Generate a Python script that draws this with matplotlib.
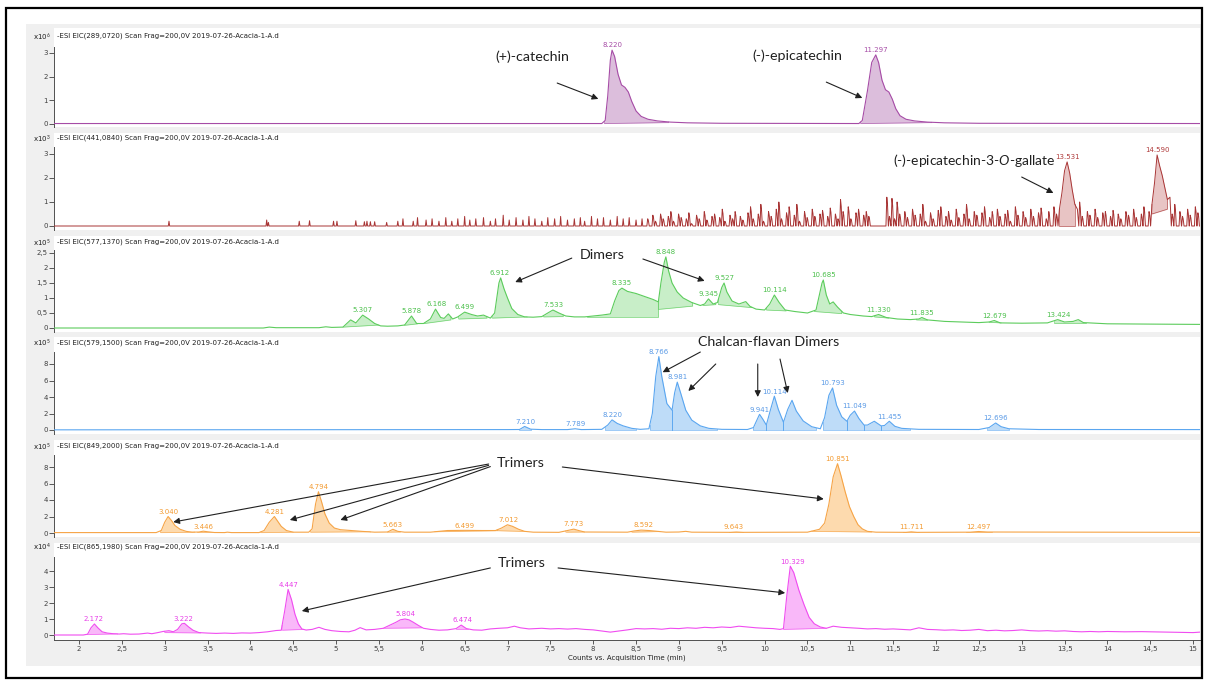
import numpy as np
import matplotlib
matplotlib.use("Agg")
import matplotlib.pyplot as plt
from matplotlib.patches import Rectangle
from matplotlib import font_manager as fm

# ---------------------------------------------------------------- data
ion_masses = ["289,0720", "441,0840", "577,1370", "579,1500", "849,2000", "865,1980"]
exponents = [6, 3, 5, 5, 5, 4]
sample_name = "2019-07-26-Acacia-1-A.d"

# panel 1 : m/z 289 (catechin / epicatechin), x10^6
p1_t = [1.71, 3.0, 5.0, 7.0, 8.10, 8.14, 8.17, 8.20, 8.22, 8.25, 8.29, 8.33, 8.37, 8.41, 8.45,
        8.50, 8.56, 8.64, 8.75, 8.90, 9.10, 9.5, 11.10, 11.14, 11.20, 11.25, 11.297, 11.33,
        11.37, 11.41, 11.45, 11.49, 11.53, 11.58, 11.65, 11.75, 11.90, 12.10, 12.5, 15.08]
p1_y = [0.02, 0.02, 0.02, 0.02, 0.02, 0.15, 1.2, 2.7, 3.12, 2.85, 2.1, 1.65, 1.55, 1.35, 0.95,
        0.55, 0.32, 0.2, 0.13, 0.08, 0.05, 0.03, 0.02, 0.15, 1.4, 2.6, 2.92, 2.6,
        1.85, 1.45, 1.35, 1.05, 0.65, 0.35, 0.2, 0.13, 0.08, 0.05, 0.03, 0.02]
p1_fill = [(8.13, 8.88, 0.02, 0.06), (11.12, 11.95, 0.02, 0.06)]
p1_labels = ["8.220", "11.297"]

# panel 2 : m/z 441 (epicatechin-3-O-gallate), x10^3
p2_spike_t = [3.05, 4.19, 4.21, 4.57, 4.69, 4.97, 5.01, 5.23, 5.33, 5.36, 5.40, 5.45, 5.59,
              5.72, 5.78, 5.90, 5.95, 6.05, 6.12, 6.20, 6.28, 6.35, 6.42, 6.50, 6.56, 6.63,
              6.72, 6.80, 6.86, 6.95, 7.02, 7.10, 7.18, 7.25, 7.32, 7.40, 7.47, 7.55, 7.62,
              7.70, 7.78, 7.85, 7.90, 7.98, 8.05, 8.12, 8.20, 8.28, 8.35, 8.42, 8.50, 8.57]
p2_spike_h = [0.2, 0.25, 0.15, 0.2, 0.22, 0.2, 0.2, 0.22, 0.18, 0.2, 0.18, 0.18, 0.15,
              0.2, 0.3, 0.2, 0.35, 0.25, 0.3, 0.2, 0.35, 0.2, 0.3, 0.4, 0.25, 0.3,
              0.35, 0.2, 0.3, 0.45, 0.25, 0.35, 0.25, 0.4, 0.3, 0.2, 0.35, 0.3, 0.4,
              0.25, 0.3, 0.35, 0.2, 0.4, 0.3, 0.35, 0.25, 0.4, 0.3, 0.35, 0.25, 0.3]
p2_dense_start = 8.64
p2_dense_step = 0.03
p2_dense_h = [0.3, 0, 0.45, 0.2, 0, 0.5, 0.3, 0, 0.4, 0.6,
              0.2, 0, 0.5, 0.35, 0, 0.3, 0.55, 0.1, 0, 0.45,
              0.3, 0, 0.6, 0.25, 0, 0.4, 0.5, 0, 0.35, 0.7,
              0.2, 0, 0.45, 0.3, 0.6, 0, 0.4, 0.25, 0, 0.55,
              0.8, 0.3, 0, 0.5, 0.9, 0.2, 0, 0.6, 0.4, 0,
              0.7, 1.0, 0.3, 0, 0.55, 0.8, 0, 0.45, 0.9, 0.2,
              0, 0.6, 0.35, 0, 0.7, 0.4, 0, 0.5, 0.65, 0,
              0.4, 0.75, 0, 0.5, 0.3, 1.1, 0.6, 0, 0.8, 0.3,
              0, 0.55, 0.7, 0, 0.45, 0.6, 0.4, 0, 0, 0,
              0, 0, 0, 1.2, 0.4, 1.15, 0.3, 1.0, 0.5, 0,
              0.6, 0.35, 0, 0.7, 0.45, 0, 0.5, 0.9, 0.2, 0,
              0.55, 0.3, 0, 0.65, 0.8, 0, 0.4, 0.6, 0.25, 0,
              0.7, 0.35, 0, 0.5, 0.9, 0.3, 0, 0.6, 0.45, 0,
              0.55, 0.8, 0, 0.35, 0.6, 0, 0.7, 0.4, 0, 0.5,
              0.65, 0.2, 0, 0.8, 0.45, 0, 0.6, 0.35, 0, 0.7,
              0.4, 0, 0.55, 0.75, 0, 0.3, 0.6, 0, 0.8, 0.5,
              0.7, 1.4, 2.3, 2.67, 2.2, 1.5, 0.9, 0.7, 1.0, 0.4,
              0, 0.6, 0.45, 0, 0.7, 0.35, 0, 0.55, 0.6, 0,
              0.4, 0.65, 0, 0.5, 0.3, 0, 0.6, 0.45, 0, 0.7,
              0.35, 0, 0.5, 0.8, 0, 0.6, 0.9, 1.8, 2.96, 2.5,
              2.1, 1.6, 1.1, 1.2, 0.5, 0.9, 0, 0.6, 0.4, 0,
              0.7, 0.45, 0, 0.8, 0.55]
# retention windows of the two real peaks (drawn as a continuous profile, not as spikes)
p2_peak_windows = [(13.44, 13.65), (14.52, 14.73)]
p2_fill = [(13.44, 13.62, 0.0, 0.0), (14.52, 14.70, 0.5, 0.7)]
p2_labels = ["13.531", "14.590"]

# panel 3 : m/z 577 (dimers), x10^5
p3_t = [1.71, 4.15, 4.22, 4.3, 4.8, 4.88, 4.95, 5.08, 5.17, 5.23, 5.31, 5.38, 5.45, 5.52, 5.6,
        5.72, 5.8, 5.88, 5.94, 6.02, 6.1, 6.16, 6.22, 6.26, 6.31, 6.36, 6.42, 6.5, 6.58, 6.65,
        6.72, 6.8, 6.85, 6.9, 6.92, 6.96, 7.0, 7.05, 7.12, 7.2, 7.3, 7.4, 7.47, 7.53, 7.6,
        7.68, 7.78, 7.9, 8.0, 8.1, 8.2, 8.25, 8.3, 8.335, 8.4, 8.5, 8.6, 8.7, 8.76, 8.79,
        8.83, 8.848, 8.88, 8.92, 8.98, 9.05, 9.15, 9.25, 9.3, 9.345, 9.4, 9.45, 9.5, 9.527,
        9.56, 9.62, 9.7, 9.78, 9.83, 9.9, 10.0, 10.06, 10.114, 10.17, 10.24, 10.35, 10.5,
        10.6, 10.67, 10.685, 10.72, 10.76, 10.8, 10.85, 10.92, 11.0, 11.15, 11.25, 11.33,
        11.42, 11.55, 11.7, 11.8, 11.835, 11.9, 12.1, 12.3, 12.5, 12.62, 12.68, 12.75, 13.0,
        13.3, 13.42, 13.5, 13.6, 13.66, 13.72, 14.0, 14.5, 15.08]
p3_y = [0.0, 0.0, 0.03, 0.01, 0.01, 0.04, 0.02, 0.03, 0.27, 0.17, 0.43, 0.3, 0.15, 0.07, 0.06,
        0.07, 0.1, 0.4, 0.15, 0.15, 0.3, 0.63, 0.35, 0.32, 0.47, 0.3, 0.37, 0.53, 0.45, 0.4,
        0.43, 0.33, 0.5, 1.5, 1.67, 1.3, 1.0, 0.65, 0.45, 0.37, 0.36, 0.38, 0.5, 0.6, 0.5,
        0.4, 0.37, 0.37, 0.4, 0.43, 0.47, 0.9, 1.25, 1.33, 1.22, 1.15, 1.05, 0.95, 0.87, 1.5,
        2.2, 2.37, 1.9, 1.5, 1.2, 1.0, 0.85, 0.75, 0.8, 0.97, 0.8, 0.85, 1.35, 1.5,
        1.2, 0.9, 0.8, 0.88, 0.72, 0.63, 0.6, 0.8, 1.1, 0.85, 0.6, 0.55, 0.5,
        0.6, 1.5, 1.6, 1.1, 0.8, 0.87, 0.7, 0.5, 0.45, 0.4, 0.38, 0.45,
        0.35, 0.3, 0.28, 0.3, 0.35, 0.27, 0.22, 0.2, 0.18, 0.2, 0.25, 0.17, 0.16,
        0.17, 0.28, 0.2, 0.22, 0.28, 0.18, 0.14, 0.13, 0.12]
p3_fill = [(5.08, 5.5, 0.03, 0.1), (5.8, 5.95, 0.09, 0.14), (6.03, 6.34, 0.15, 0.27),
           (6.43, 6.76, 0.3, 0.33), (6.82, 7.23, 0.33, 0.37), (7.42, 7.65, 0.37, 0.38),
           (7.93, 8.76, 0.37, 0.37), (8.76, 9.16, 0.62, 0.73), (9.28, 9.43, 0.75, 0.78),
           (9.46, 9.85, 0.78, 0.68), (10.02, 10.25, 0.6, 0.57), (10.58, 10.9, 0.55, 0.48),
           (11.28, 11.45, 0.37, 0.33), (11.77, 11.9, 0.27, 0.26), (12.62, 12.76, 0.19, 0.17),
           (13.38, 13.75, 0.16, 0.16)]
p3_labels = ["5.307", "5.878", "6.168", "6.499", "6.912", "7.533", "8.335", "8.848", "9.345",
             "9.527", "10.114", "10.685", "11.330", "11.835", "12.679", "13.424"]

# panel 4 : m/z 579 (chalcan-flavan dimers), x10^5
p4_t = [1.71, 7.0, 7.14, 7.2, 7.27, 7.4, 7.7, 7.79, 7.86, 8.1, 8.17, 8.22, 8.28, 8.35, 8.45,
        8.55, 8.65, 8.69, 8.73, 8.766, 8.8, 8.86, 8.92, 8.95, 8.981, 9.02, 9.08, 9.15, 9.25,
        9.35, 9.5, 9.8, 9.87, 9.941, 9.98, 10.02, 10.07, 10.114, 10.16, 10.22, 10.27, 10.32,
        10.37, 10.45, 10.55, 10.65, 10.7, 10.75, 10.793, 10.84, 10.9, 10.96, 11.0, 11.049,
        11.1, 11.16, 11.2, 11.28, 11.36, 11.4, 11.455, 11.52, 11.6, 11.68, 11.8, 12.5, 12.62,
        12.696, 12.76, 12.85, 13.2, 15.08]
p4_y = [0.02, 0.05, 0.06, 0.43, 0.1, 0.05, 0.05, 0.15, 0.05, 0.08, 0.6, 1.23, 0.8, 0.5, 0.2,
        0.08, 0.15, 2.0, 6.5, 8.9, 6.5, 3.2, 2.4, 4.5, 5.8, 4.5, 2.4, 1.2, 0.5,
        0.2, 0.08, 0.06, 0.3, 1.9, 1.3, 0.6, 2.5, 4.1, 2.5, 0.94, 2.5, 3.6,
        2.3, 1.1, 0.4, 0.15, 1.5, 4.2, 5.1, 3.0, 1.6, 1.06, 1.8, 2.3,
        1.4, 0.6, 0.6, 1.06, 0.5, 0.55, 1.06, 0.45, 0.2, 0.15, 0.08, 0.06, 0.3,
        0.85, 0.4, 0.15, 0.06, 0.05]
p4_fill = [(7.14, 7.28, 0.05, 0.05), (8.14, 8.5, 0.05, 0.05), (8.66, 8.92, 0.05, 0.05),
           (8.92, 9.45, 0.05, 0.05), (9.86, 10.02, 0.05, 0.05), (10.02, 10.22, 0.05, 0.05),
           (10.22, 10.6, 0.05, 0.05), (10.68, 10.96, 0.05, 0.05), (10.96, 11.16, 0.05, 0.05),
           (11.16, 11.36, 0.05, 0.05), (11.36, 11.7, 0.05, 0.05), (12.6, 12.85, 0.05, 0.05)]
p4_labels = ["7.210", "7.789", "8.220", "8.766", "8.981", "9.941", "10.114", "10.793",
             "11.049", "11.455", "12.696"]

# panel 5 : m/z 849 (trimers), x10^5
p5_t = [1.71, 2.9, 2.96, 3.0, 3.04, 3.08, 3.12, 3.18, 3.25, 3.32, 3.4, 3.45, 3.5, 3.58, 3.7,
        3.73, 3.78, 4.1, 4.16, 4.22, 4.28, 4.32, 4.36, 4.42, 4.5, 4.68, 4.72, 4.76, 4.794,
        4.83, 4.87, 4.92, 4.98, 5.05, 5.15, 5.3, 5.45, 5.6, 5.663, 5.72, 5.8, 6.1, 6.2, 6.3,
        6.5, 6.7, 6.86, 6.93, 7.0, 7.06, 7.13, 7.2, 7.3, 7.6, 7.7, 7.773, 7.83, 7.9, 8.4,
        8.48, 8.56, 8.65, 8.75, 8.85, 9.0, 9.08, 9.15, 9.6, 9.67, 9.75, 10.5, 10.58, 10.64,
        10.7, 10.75, 10.8, 10.851, 10.89, 10.94, 10.99, 11.04, 11.09, 11.14, 11.2, 11.3,
        11.65, 11.711, 11.78, 12.4, 12.497, 12.6, 15.08]
p5_y = [0.05, 0.05, 0.3, 1.3, 2.0, 1.5, 0.9, 0.45, 0.2, 0.1, 0.12, 0.22, 0.15, 0.06, 0.05,
        0.1, 0.05, 0.05, 0.3, 1.3, 2.0, 1.4, 0.8, 0.3, 0.1, 0.1, 0.5, 3.5, 5.0,
        3.8, 2.3, 1.2, 0.6, 0.4, 0.32, 0.2, 0.1, 0.12, 0.45, 0.2, 0.1, 0.1, 0.2, 0.3,
        0.32, 0.3, 0.3, 0.6, 1.0, 0.8, 0.45, 0.2, 0.1, 0.08, 0.3, 0.47, 0.3, 0.12, 0.1,
        0.25, 0.35, 0.3, 0.2, 0.1, 0.12, 0.2, 0.1, 0.08, 0.12, 0.08, 0.1, 0.3, 0.45,
        1.2, 3.5, 6.8, 8.4, 7.0, 5.0, 3.2, 2.0, 1.0, 0.5, 0.2, 0.1,
        0.08, 0.14, 0.08, 0.1, 0.18, 0.12, 0.08]
p5_fill = [(2.95, 3.35, 0.05, 0.1), (3.38, 3.55, 0.1, 0.1), (4.12, 4.5, 0.05, 0.1),
           (4.7, 5.4, 0.1, 0.15), (5.6, 5.75, 0.1, 0.12), (6.15, 6.88, 0.15, 0.28),
           (6.88, 7.22, 0.28, 0.18), (7.68, 7.9, 0.1, 0.12), (8.45, 8.78, 0.1, 0.18),
           (9.58, 9.75, 0.08, 0.08), (10.55, 11.25, 0.2, 0.12), (11.62, 11.8, 0.08, 0.08),
           (12.35, 12.65, 0.1, 0.1)]
p5_labels = ["3.040", "3.446", "4.281", "4.794", "5.663", "6.499", "7.012", "7.773", "8.592",
             "9.643", "10.851", "11.711", "12.497"]

# panel 6 : m/z 865 (trimers), x10^4
p6_t = [1.71, 2.05, 2.1, 2.14, 2.18, 2.22, 2.27, 2.33, 2.4, 2.47, 2.52, 2.6, 2.7, 2.8, 2.85,
        2.92, 2.98, 3.05, 3.1, 3.15, 3.2, 3.23, 3.28, 3.33, 3.4, 3.5, 3.6, 3.7, 3.8, 3.9, 4.0,
        4.1, 4.2, 4.3, 4.36, 4.4, 4.44, 4.48, 4.52, 4.56, 4.6, 4.65, 4.72, 4.8, 4.87, 4.95,
        5.05, 5.15, 5.22, 5.28, 5.35, 5.45, 5.55, 5.62, 5.7, 5.75, 5.804, 5.85, 5.9, 5.96,
        6.02, 6.1, 6.2, 6.3, 6.4, 6.46, 6.52, 6.6, 6.7, 6.8, 6.9, 7.0, 7.08, 7.15, 7.25, 7.4,
        7.5, 7.6, 7.7, 7.8, 7.9, 8.0, 8.1, 8.2, 8.3, 8.4, 8.5, 8.6, 8.7, 8.8, 8.9, 9.0, 9.1,
        9.2, 9.3, 9.4, 9.5, 9.6, 9.7, 9.8, 9.9, 10.0, 10.1, 10.18, 10.22, 10.26, 10.3, 10.34,
        10.4, 10.46, 10.52, 10.58, 10.65, 10.72, 10.8, 10.9, 11.0, 11.1, 11.2, 11.3, 11.4,
        11.5, 11.6, 11.7, 11.8, 11.9, 12.0, 12.1, 12.2, 12.3, 12.4, 12.5, 12.6, 12.7, 12.8,
        12.9, 13.0, 13.1, 13.2, 13.3, 13.4, 13.5, 13.6, 13.7, 13.8, 13.9, 14.0, 14.2, 14.4,
        14.6, 14.8, 15.0, 15.08]
p6_y = [0.0, 0.0, 0.05, 0.45, 0.69, 0.45, 0.2, 0.12, 0.08, 0.06, 0.08, 0.05, 0.06, 0.12, 0.08,
        0.15, 0.22, 0.27, 0.2, 0.35, 0.7, 0.73, 0.5, 0.3, 0.15, 0.12, 0.1, 0.12, 0.1, 0.13, 0.12,
        0.15, 0.2, 0.28, 0.3, 1.5, 2.85, 2.2, 1.3, 0.7, 0.38, 0.31, 0.35, 0.48, 0.35, 0.27,
        0.22, 0.2, 0.3, 0.46, 0.32, 0.35, 0.42, 0.6, 0.8, 0.95, 1.0, 0.95, 0.8, 0.6,
        0.42, 0.35, 0.3, 0.32, 0.4, 0.62, 0.4, 0.32, 0.3, 0.38, 0.42, 0.45, 0.55, 0.45, 0.38, 0.42,
        0.38, 0.4, 0.37, 0.4, 0.35, 0.32, 0.25, 0.18, 0.25, 0.32, 0.4, 0.38, 0.4, 0.36, 0.42, 0.4, 0.45,
        0.42, 0.48, 0.45, 0.5, 0.47, 0.55, 0.5, 0.45, 0.42, 0.4, 0.35, 0.4, 2.5, 4.3, 3.9,
        2.8, 1.9, 1.1, 0.7, 0.5, 0.42, 0.55, 0.48, 0.45, 0.42, 0.38, 0.4, 0.36,
        0.38, 0.35, 0.32, 0.45, 0.35, 0.33, 0.3, 0.32, 0.28, 0.3, 0.35, 0.27, 0.3, 0.26,
        0.28, 0.32, 0.27, 0.25, 0.27, 0.24, 0.26, 0.22, 0.2, 0.22, 0.2, 0.22, 0.2, 0.21,
        0.19, 0.17, 0.15, 0.18]
p6_fill = [(2.1, 2.45, 0.03, 0.07), (3.0, 3.42, 0.15, 0.13), (4.37, 4.62, 0.3, 0.35),
           (5.55, 6.0, 0.42, 0.45), (6.4, 6.54, 0.38, 0.38), (10.22, 10.72, 0.35, 0.42)]
p6_labels = ["2.172", "3.222", "4.447", "5.804", "6.474", "10.329"]

x_ticks = [2, 2.5, 3, 3.5, 4, 4.5, 5, 5.5, 6, 6.5, 7, 7.5, 8, 8.5, 9, 9.5, 10, 10.5,
           11, 11.5, 12, 12.5, 13, 13.5, 14, 14.5, 15]
y_ticks = [[0, 1, 2, 3], [0, 1, 2, 3], [0, 0.5, 1, 1.5, 2, 2.5], [0, 2, 4, 6, 8],
           [0, 2, 4, 6, 8], [0, 1, 2, 3, 4]]
x_label = "Counts vs. Acquisition Time (min)"

# build panel 2 trace: isolated spikes, then noise "grass" and the two real peaks
p2_t = [1.71]
p2_y = [0.0]
half_w = 0.008
for st, sh in zip(p2_spike_t, p2_spike_h):
    p2_t += [st - half_w, st, st + half_w]
    p2_y += [0.0, sh, 0.0]
dense_t = p2_dense_start + p2_dense_step * np.arange(len(p2_dense_h))
grass_w = 0.014
for dt, dh in zip(dense_t, p2_dense_h):
    in_peak = any(a <= dt <= b for a, b in p2_peak_windows)
    if in_peak or dh == 0:
        p2_t.append(dt)
        p2_y.append(dh)
    else:
        p2_t += [dt - grass_w, dt - 0.004, dt + 0.004, dt + grass_w]
        p2_y += [0.0, dh, dh * 0.75, 0.0]

traces_t = [p1_t, p2_t, p3_t, p4_t, p5_t, p6_t]
traces_y = [p1_y, p2_y, p3_y, p4_y, p5_y, p6_y]
fills = [p1_fill, p2_fill, p3_fill, p4_fill, p5_fill, p6_fill]
labels = [p1_labels, p2_labels, p3_labels, p4_labels, p5_labels, p6_labels]
p4_drops = [8.92, 10.02, 10.22, 10.96, 11.16, 11.36]

# ---------------------------------------------------------------- style / layout
names = {f.name for f in fm.fontManager.ttflist}
small_family = ['Liberation Sans Narrow', 'DejaVu Sans'] if 'Liberation Sans Narrow' in names else ['DejaVu Sans']
ann_family = ['Lato', 'DejaVu Sans'] if 'Lato' in names else ['DejaVu Sans']
plt.rcParams['font.family'] = small_family
plt.rcParams['mathtext.fontset'] = 'custom'
plt.rcParams['mathtext.rm'] = ann_family[0]
plt.rcParams['mathtext.it'] = ann_family[0] + ':italic'
small = 5.6 if small_family[0] != 'DejaVu Sans' else 5.0

line_colors = ["#a64ca6", "#a83434", "#5ccc5c", "#5aa6f0", "#f6a446", "#f04cf0"]
fill_colors = ["#dcbedc", "#e8c4c4", "#c8eec8", "#bedcf8", "#fddaae", "#f9b8f9"]
label_colors = ["#a64ca6", "#b03c3c", "#4cc04c", "#5a9ae6", "#f39a30", "#e83ee8"]

W, H = 1206, 681
panel_top = [28, 133, 236, 337, 440, 543]
panel_bot = [127, 230, 332, 434, 537, 640]
zero_px = [124, 226, 328, 430, 533, 635]
ppu = [23.67, 24.0, 30.0, 8.25, 8.25, 16.0]
spine_top_px = [47, 147, 250, 352, 455, 557]
title_px = [36, 138, 242, 343, 446, 547]
x_left_px, x_right_px = 54, 1200
px_per_min = 85.7
t_at_79 = 2.0
xlim = (t_at_79 + (x_left_px - 79) / px_per_min, t_at_79 + (x_right_px - 79) / px_per_min)

fig = plt.figure(figsize=(W / 100, H / 100), dpi=100)
fig.patch.set_facecolor('white')
fig.add_artist(Rectangle((26 / W, 1 - 666 / H), (1202 - 26) / W, (666 - 24) / H,
                         transform=fig.transFigure, facecolor='#f0f0f0', edgecolor='none', zorder=-5))
fig.add_artist(Rectangle((6 / W, 1 - 678 / H), (1202 - 6) / W, (678 - 8) / H,
                         transform=fig.transFigure, facecolor='none', edgecolor='black', lw=1.6, zorder=20))


def fmt(v):
    return f"{v:g}".replace('.', ',')


axes = []
for i in range(6):
    top, bot = panel_top[i], panel_bot[i]
    ax = fig.add_axes([x_left_px / W, 1 - bot / H, (x_right_px - x_left_px) / W, (bot - top) / H])
    ax.set_facecolor('white')
    ax.set_xlim(*xlim)
    ax.set_ylim(-(bot - zero_px[i]) / ppu[i], (zero_px[i] - top) / ppu[i])
    for s in ['top', 'right']:
        ax.spines[s].set_visible(False)
    ax.spines['left'].set_bounds(ax.get_ylim()[0], (zero_px[i] - spine_top_px[i]) / ppu[i])
    ax.spines['left'].set_color('#505050')
    ax.spines['left'].set_linewidth(0.7)
    ax.set_yticks(y_ticks[i])
    ax.set_yticklabels([fmt(v) for v in y_ticks[i]])
    ax.tick_params(axis='y', direction='out', length=3.5, width=0.6, colors='#404040',
                   labelsize=small, pad=1)
    if i < 5:
        ax.spines['bottom'].set_visible(False)
        ax.set_xticks([])
    else:
        ax.spines['bottom'].set_color('#505050')
        ax.spines['bottom'].set_linewidth(0.7)
        ax.set_xticks(x_ticks)
        ax.set_xticklabels([fmt(v) for v in x_ticks])
        ax.tick_params(axis='x', direction='out', length=3, width=0.6, colors='#404040',
                       labelsize=small, pad=1.5)

    t = np.asarray(traces_t[i], dtype=float)
    y = np.asarray(traces_y[i], dtype=float)
    # integrated peak areas
    for (t0, t1, b0, b1) in fills[i]:
        m = (t > t0) & (t < t1)
        tt = np.concatenate([[t0], t[m], [t1]])
        yy = np.interp(tt, t, y)
        bb = np.interp(tt, [t0, t1], [b0, b1])
        ax.fill_between(tt, bb, yy, color=fill_colors[i], lw=0, zorder=1)
        ax.plot([t0, t0, t1, t1], [yy[0], b0, b1, yy[-1]], color=line_colors[i], lw=0.5,
                alpha=0.8, zorder=2)
    if i == 3:
        for d in p4_drops:
            ax.plot([d, d], [0.05, np.interp(d, t, y)], color=line_colors[i], lw=0.5, zorder=2)
    ax.plot(t, y, color=line_colors[i], lw=0.8 if i != 1 else 0.7, zorder=3)
    # retention time labels
    for lab in labels[i]:
        rt = float(lab)
        sel = (t >= rt - 0.04) & (t <= rt + 0.04)
        ytop = y[sel].max() if sel.any() else np.interp(rt, t, y)
        ax.annotate(lab, (rt, ytop), xytext=(0, 1.2), textcoords='offset points',
                    ha='center', va='bottom', fontsize=small, color=label_colors[i],
                    annotation_clip=False, zorder=4)
    # panel header
    fig.text(57 / W, 1 - title_px[i] / H,
             f"-ESI EIC({ion_masses[i]}) Scan Frag=200,0V {sample_name}",
             fontsize=small, va='center', ha='left', color='#202020')
    fig.text(51 / W, 1 - title_px[i] / H, f"x10$^{{{exponents[i]}}}$",
             fontsize=small, va='center', ha='right', color='#202020')
    axes.append(ax)

fig.text(627 / W, 1 - 658 / H, x_label, fontsize=small, ha='center', va='center', color='#202020')

# ---------------------------------------------------------------- annotations
arrow = dict(arrowstyle='-|>', color='#202020', lw=0.8, mutation_scale=9, shrinkA=0, shrinkB=0)
ann_kw = dict(fontsize=10.3, family=ann_family, ha='center', va='center', color='#202020')


def note(ax, text, pos, **kw):
    d = dict(ann_kw)
    d.update(kw)
    ax.text(pos[0], pos[1], text, zorder=6, clip_on=False, **d)


def arr(ax, start, end):
    ax.annotate('', xy=end, xytext=start, arrowprops=arrow, annotation_clip=False, zorder=6)


note(axes[0], "(+)-catechin", (7.29, 2.83))
arr(axes[0], (7.58, 1.73), (8.06, 1.06))
note(axes[0], "(-)-epicatechin", (10.38, 2.87))
arr(axes[0], (10.72, 1.77), (11.14, 1.10))

note(axes[1], "(-)-epicatechin-3-$\\mathit{O}$-gallate", (13.40, 2.71), ha='right', fontsize=10)
arr(axes[1], (13.00, 2.04), (13.37, 1.375))

note(axes[2], "Dimers", (8.10, 2.43))
arr(axes[2], (7.75, 2.33), (7.09, 1.53))
arr(axes[2], (8.58, 2.30), (9.30, 1.57))

note(axes[3], "Chalcan-flavan Dimers", (10.05, 10.67))
arr(axes[3], (9.25, 9.45), (8.81, 7.0))
arr(axes[3], (9.43, 8.0), (9.11, 4.73))
arr(axes[3], (9.92, 8.0), (9.92, 4.0))
arr(axes[3], (10.18, 8.6), (10.27, 4.48))

note(axes[4], "Trimers", (7.15, 8.48))
arr(axes[4], (6.78, 8.36), (3.10, 1.33))
arr(axes[4], (6.78, 8.20), (4.46, 1.58))
arr(axes[4], (6.80, 8.05), (5.05, 1.58))
arr(axes[4], (7.64, 8.0), (10.69, 4.12))

note(axes[5], "Trimers", (7.17, 4.5))
arr(axes[5], (6.80, 4.19), (4.60, 1.5))
arr(axes[5], (7.59, 4.19), (10.24, 2.63))

fig.savefig("out.png", dpi=100)
